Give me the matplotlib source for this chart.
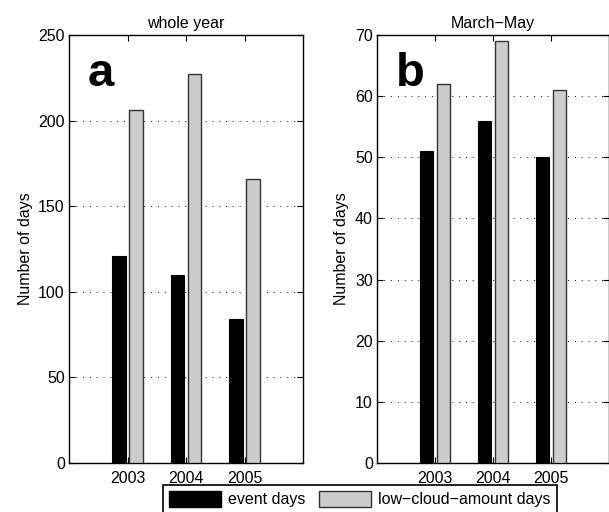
import matplotlib
matplotlib.use("Agg")
import matplotlib.pyplot as plt
from matplotlib.patches import Patch
import numpy as np

plt.rcParams['font.family'] = ['Liberation Sans', 'DejaVu Sans']

years = [2003, 2004, 2005]
event_year = [121, 110, 84]
cloud_year = [206, 227, 166]
event_mam = [51, 56, 50]
cloud_mam = [62, 69, 61]
titles = ["whole year", "March\u2212May"]
letters = ["a", "b"]
series_labels = ["event days", "low\u2212cloud\u2212amount days"]

fig = plt.figure(figsize=(6.09, 5.12), dpi=100)
ax1 = fig.add_axes([69/609, 49/512, 234/609, 428/512])
ax2 = fig.add_axes([377/609, 49/512, 232/609, 428/512])

fs = 11.5
grey = '#cccccc'
for ax, ev, cl, title, letter, ylim, yt in [
        (ax1, event_year, cloud_year, titles[0], letters[0], 250, np.arange(0, 251, 50)),
        (ax2, event_mam, cloud_mam, titles[1], letters[1], 70, np.arange(0, 71, 10))]:
    x = np.array(years, dtype=float)
    ax.bar(x - 0.145, ev, width=0.235, color='black', edgecolor='black', linewidth=0.8, zorder=3)
    ax.bar(x + 0.145, cl, width=0.235, color=grey, edgecolor='#333333', linewidth=1.0, zorder=3)
    ax.set_xlim(2002, 2006)
    ax.set_ylim(0, ylim)
    ax.set_xticks(years)
    ax.set_xticklabels([str(y) for y in years], fontsize=fs)
    ax.set_yticks(yt)
    ax.set_yticklabels([str(v) for v in yt], fontsize=fs)
    ax.tick_params(direction='in', length=4, width=0.8, top=True, right=True, pad=3)
    ax.tick_params(axis='x', pad=6)
    ax.yaxis.grid(True, linestyle=(0, (1, 6)), color='black', linewidth=0.7)
    ax.set_axisbelow(True)
    for s in ax.spines.values():
        s.set_linewidth(1.0)
    ax.set_title(title, fontsize=fs, pad=5)
    ax.set_ylabel("Number of days", fontsize=fs, labelpad=4)
    ax.text(0.08, 0.96, letter, transform=ax.transAxes, fontsize=34,
            fontweight='bold', va='top', ha='left')

handles = [Patch(facecolor='black', edgecolor='black'),
           Patch(facecolor=grey, edgecolor='#333333')]
leg = fig.legend(handles, series_labels, ncol=2, loc='upper left',
                 bbox_to_anchor=(163/609, 1 - 485/512), fontsize=fs,
                 frameon=True, fancybox=False, edgecolor='black', framealpha=1,
                 handlelength=3.2, handleheight=1.1, borderpad=0.4,
                 columnspacing=0.9, handletextpad=0.45, borderaxespad=0)
leg.get_frame().set_linewidth(1.2)

fig.savefig("out.png", dpi=100)
